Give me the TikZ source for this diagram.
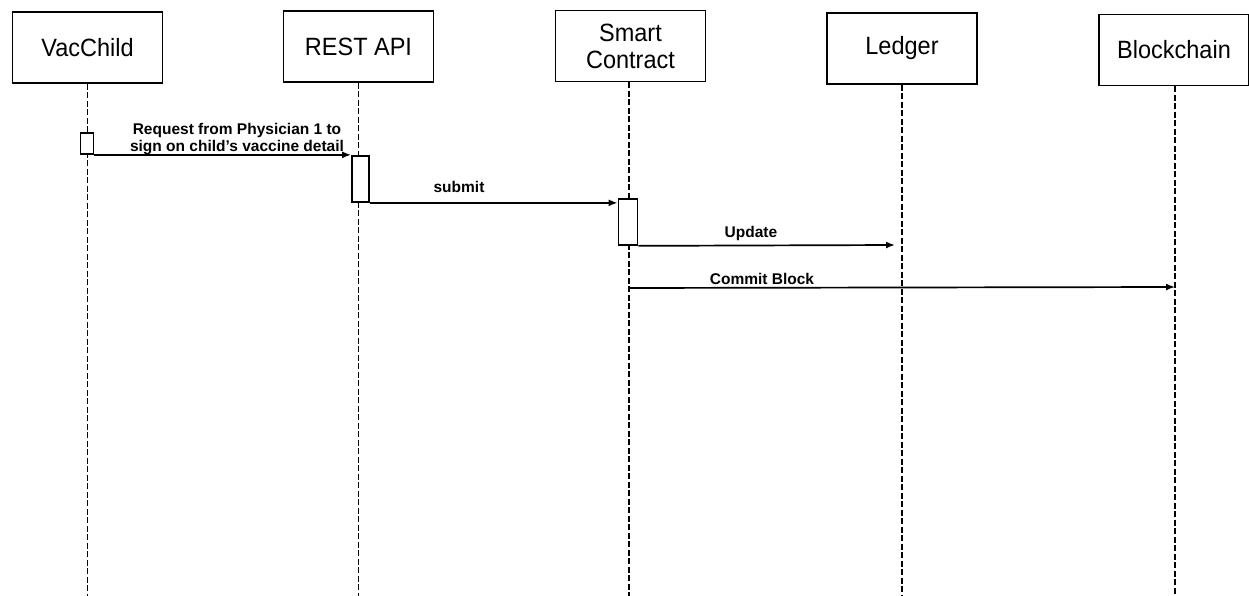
\documentclass[tikz,border=0pt]{standalone}
\usepackage{fontspec}
\setmainfont{Liberation Sans}
\newfontfamily\headfont[FakeStretch=0.94]{Liberation Sans}
\usetikzlibrary{arrows.meta}
\begin{document}
\begin{tikzpicture}[x=1pt,y=-1pt,
  actor/.style={draw, line width=1.8pt, minimum width=150pt, minimum height=71pt,
    align=center, font=\headfont\fontsize{25}{27}\selectfont, inner sep=0pt},
  life/.style={line width=1.8pt, dash pattern=on 6pt off 2.5pt},
  act/.style={draw, fill=white, line width=1.7pt, inner sep=0pt},
  msg/.style={line width=1.7pt, -{Latex[length=9pt,width=7pt]}},
  lbl/.style={font=\bfseries\fontsize{15.5}{17}\selectfont, align=center, inner sep=0pt, anchor=base}]
\useasboundingbox (0,0) rectangle (1249,596);

% participants
\node[actor] (vc) at (87.5,47.5) {VacChild};
\node[actor] (api) at (358.5,46.5) {REST API};
\node[actor] (sc) at (630.5,46) {Smart\\Contract};
\node[actor] (led) at (902,48.5) {Ledger};
\node[actor] (bc) at (1174,50) {Blockchain};

% lifeline ends
\coordinate (vcE) at (87.5,596);
\coordinate (apiE) at (358.5,596);
\coordinate (scE) at (629,596);
\coordinate (ledE) at (902,596);
\coordinate (bcE) at (1175,596);

\draw[life] (vc.south) -- (vcE);
\draw[life] (api.south) -- (apiE);
\draw[life] (sc.south -| scE) -- (scE);
\draw[life] (led.south) -- (ledE);
\draw[life] (bc.south -| bcE) -- (bcE);

% activation bars
\node[act, minimum width=13pt, minimum height=21pt] (a1) at (87,143.5) {};
\node[act, minimum width=17pt, minimum height=46pt] (a2) at (360.5,179) {};
\node[act, minimum width=19pt, minimum height=46pt] (a3) at (628,222) {};

% message targets
\coordinate (t3) at (895,245);
\coordinate (s4) at (629,288);
\coordinate (t4) at (1175,287);

% messages
\draw[msg] (a1.south east) -- (a1.south east -| a2.west);
\node[lbl] (l1) at (237,151.5) {Request from Physician 1 to\\sign on child's vaccine detail};

\draw[msg] (a2.south east) -- (a2.south east -| a3.west);
\node[lbl] (l2) at (459,193) {submit};

\draw[msg] (a3.south east) -- (t3);
\node[lbl] (l3) at (751,237.5) {Update};

\draw[msg] (s4) -- (t4);
\node[lbl] (l4) at (762,284.5) {Commit Block};
\end{tikzpicture}
\end{document}
